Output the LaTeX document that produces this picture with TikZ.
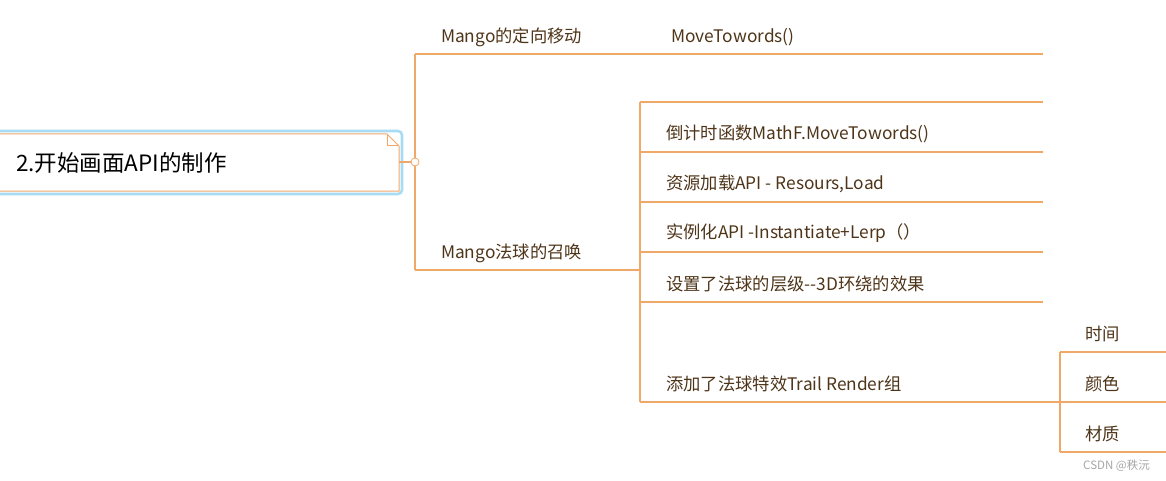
\documentclass[tikz,border=0pt]{standalone}
\usepackage{fontspec}
\setmainfont{Noto Sans CJK SC}
\definecolor{lineor}{HTML}{F0A868}
\definecolor{txtbr}{HTML}{4E3418}
\definecolor{selblue}{HTML}{A8DCF4}

\tikzset{
  topic/.style={anchor=west, inner sep=0pt, text=txtbr, font=\fontsize{17.3}{20}\selectfont},
  branch/.style={draw=lineor, line width=1.1pt},
}

\begin{document}
\begin{tikzpicture}[x=1pt, y=-1pt]
    \useasboundingbox (0,0) rectangle (1166,481);
    % root topic, cut at the left border
    \draw[selblue, line width=2.6pt, rounded corners=4pt] (-10,131) rectangle (402,194);
    \draw[lineor, line width=1pt] (-10,134) -- (387,134) -- (399,146) -- (399,191) -- (-10,191);
    \draw[lineor, line width=1pt] (387,134) -- (387,146) -- (399,146);
    \node[anchor=west, inner sep=0pt, font=\fontsize{22.5}{26}\selectfont] (root) at (16,163) {2.开始画面API的制作};
    \coordinate (rootR) at (399,162);
    \coordinate (hub) at (415,162);
    \coordinate (top) at (415,54);
    \coordinate (bot) at (415,270);
    \draw[branch] (top) -- (bot);
    \draw[branch] (rootR) -- (hub);
    \filldraw[branch, fill=white, line width=0.8pt] (hub) circle (4pt);

    % first branch
    \node[topic] (dingxiang) at (441,37.5) {Mango的定向移动};
    \node[topic] (movetw) at (671,37.5) {MoveTowords()};
    \coordinate (moveR) at (1043,54);
    \draw[branch] (top) -- (moveR);

    % second branch
    \node[topic] (zhaohuan) at (441,253.5) {Mango法球的召唤};
    \coordinate (fork) at (640,270);
    \coordinate (forkT) at (640,102);
    \coordinate (forkB) at (640,402);
    \draw[branch] (bot) -- (fork);
    \draw[branch] (forkT) -- (forkB);
    \draw[branch] (forkT) -- (1043,102);
    \foreach \y/\txt [count=\i] in {132/倒计时函数MathF.MoveTowords(),
                                    182/资源加载API - Resours{,}Load,
                                    232/实例化API -Instantiate+Lerp（）,
                                    282/设置了法球的层级-{}-3D环绕的效果} {
        \node[topic] (sub\i) at (666,\y+1.5) {\txt};
        \draw[branch] (640,\y+20) -- (1043,\y+20);
    }
    \node[topic] (trail) at (666,383.5) {添加了法球特效Trail Render组};

    % trail render children
    \coordinate (split) at (1060,402);
    \coordinate (splitT) at (1060,352);
    \coordinate (splitB) at (1060,452);
    \draw[branch] (forkB) -- (split) -- (1166,402);
    \draw[branch] (splitT) -- (splitB);
    \draw[branch] (splitT) -- (1166,352);
    \draw[branch] (splitB) -- (1166,452);
    \node[topic] (shijian) at (1085,333.5) {时间};
    \node[topic] (yanse) at (1085,383.5) {颜色};
    \node[topic] (caizhi) at (1085,433.5) {材质};

    \node[anchor=west, inner sep=0pt, text=black!35, font=\fontsize{11.5}{13}\selectfont] (mark) at (1083,466) {CSDN @秩沅};
\end{tikzpicture}
\end{document}
